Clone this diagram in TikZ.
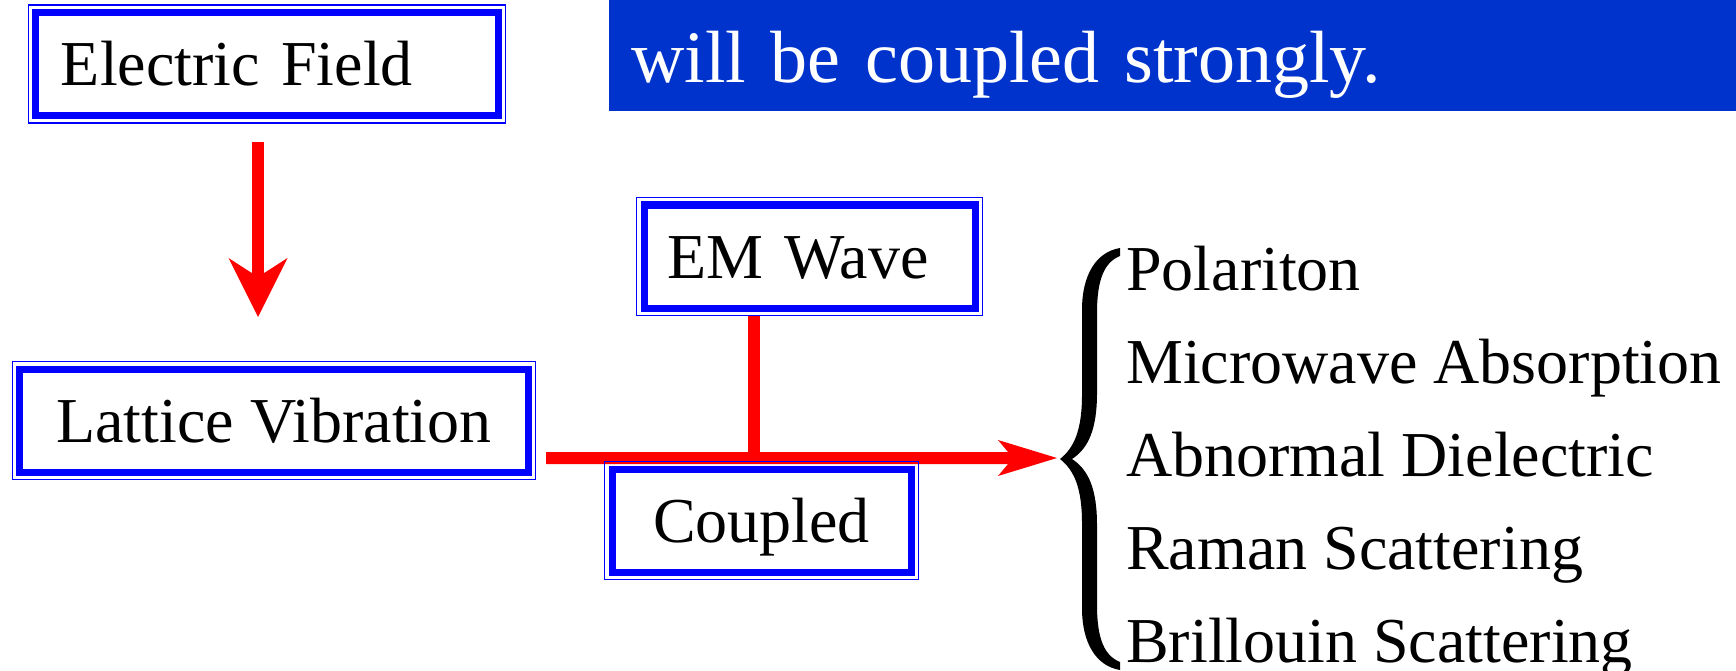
\documentclass[tikz,border=0pt]{standalone}
\usepackage{fontspec}
\setmainfont{Liberation Serif}
\usepackage{xcolor}
\definecolor{cBox}{HTML}{0000FF}
\definecolor{cBanner}{HTML}{0033CC}
\definecolor{cFlow}{HTML}{FF0000}
\usepackage{tikz}
\usetikzlibrary{arrows.meta,calc}
\tikzset{
  node-box/.style={draw=cBox,line width=7bp,fill=white,outer sep=0pt,
    minimum height=103bp,text height=44bp,text depth=0pt,
    font=\fontsize{64bp}{72bp}\selectfont},
  node-rim/.style={draw=cBox,line width=1.6bp},
  node-banner/.style={fill=cBanner,text=white,outer sep=0pt,inner xsep=22bp,
    minimum height=111bp,text height=55bp,text depth=0pt,align=left,
    font=\fontsize{74bp}{80bp}\selectfont},
  node-item/.style={inner sep=0pt,anchor=base west,
    font=\fontsize{64bp}{72bp}\selectfont},
  % red flow lines: a wide head going down, a slim head going right
  arrow-down/.style={-{Stealth[length=59bp,width=59bp,inset=19bp,line width=0pt]},
    line width=12bp,draw=cFlow},
  arrow-flow/.style={-{Stealth[length=59bp,width=36bp,inset=15bp,line width=0pt]},
    line width=12bp,draw=cFlow},
  line-flow/.style={line width=12bp,draw=cFlow},
}

\begin{document}
\begin{tikzpicture}[x=1bp,y=-1bp]
  \useasboundingbox (0,0) rectangle (1736,671);
  \node[node-box,text width=412bp,inner xsep=25bp,align=left] (ef) at (267,64) {Electric Field};
  \node[node-box,minimum width=508bp] (lv) at (274,420.5) {Lattice Vibration};
  \node[node-box,text width=285bp,inner xsep=23bp,align=left] (em) at (809.5,256.5) {EM Wave};
  \node[node-banner,text width=1083bp,anchor=north west] (hint) at (609,0) {will be coupled strongly.};

  % brace in front of the effects
  \coordinate (brace-tip) at (1060,458);
  \fill (1120,248) .. controls (1096,252) and (1082,275) .. (1082,310)
    -- (1082,395) .. controls (1082,430) and (1074,448) .. (1060,459)
    .. controls (1074,470) and (1082,488) .. (1082,523)
    -- (1082,608) .. controls (1082,643) and (1096,666) .. (1120,670)
    -- (1120,662) .. controls (1105,656) and (1097,640) .. (1097,605)
    -- (1097,525) .. controls (1097,490) and (1089,470) .. (1072,459)
    .. controls (1089,448) and (1097,428) .. (1097,393)
    -- (1097,313) .. controls (1097,278) and (1105,262) .. (1120,256) -- cycle;

  \node[node-item] (p1) at (1126,290) {Polariton};
  \node[node-item] (p2) at (1126,383) {Microwave Absorption};
  \node[node-item] (p3) at (1126,476) {Abnormal Dielectric};
  \node[node-item] (p4) at (1126,569) {Raman Scattering};
  \node[node-item] (p5) at (1126,662) {Brillouin Scattering};

  \draw[arrow-down,shorten <=26bp,shorten >=52bp] ([xshift=-9bp]ef.south) -- ([xshift=-9bp]ef.south |- lv.north);
  \draw[arrow-flow,shorten <=18bp,shorten >=3bp] ([yshift=-37.5bp]lv.east) -- (brace-tip);
  \draw[line-flow,shorten <=7.5bp] ([xshift=-56bp]em.south) -- ([xshift=-56bp]em.south |- brace-tip);

  \node[node-box,minimum width=299bp] (cp) at (761.5,520.5) {Coupled};

  \draw[node-rim] ([shift={(-7.5,7.5)}]ef.south west) rectangle ([shift={(7.5,-7.5)}]ef.north east);
  \draw[node-rim] ([shift={(-7.5,7.5)}]lv.south west) rectangle ([shift={(7.5,-7.5)}]lv.north east);
  \draw[node-rim] ([shift={(-7.5,7.5)}]em.south west) rectangle ([shift={(7.5,-7.5)}]em.north east);
  \draw[node-rim] ([shift={(-7.5,7.5)}]cp.south west) rectangle ([shift={(7.5,-7.5)}]cp.north east);
\end{tikzpicture}
\end{document}
